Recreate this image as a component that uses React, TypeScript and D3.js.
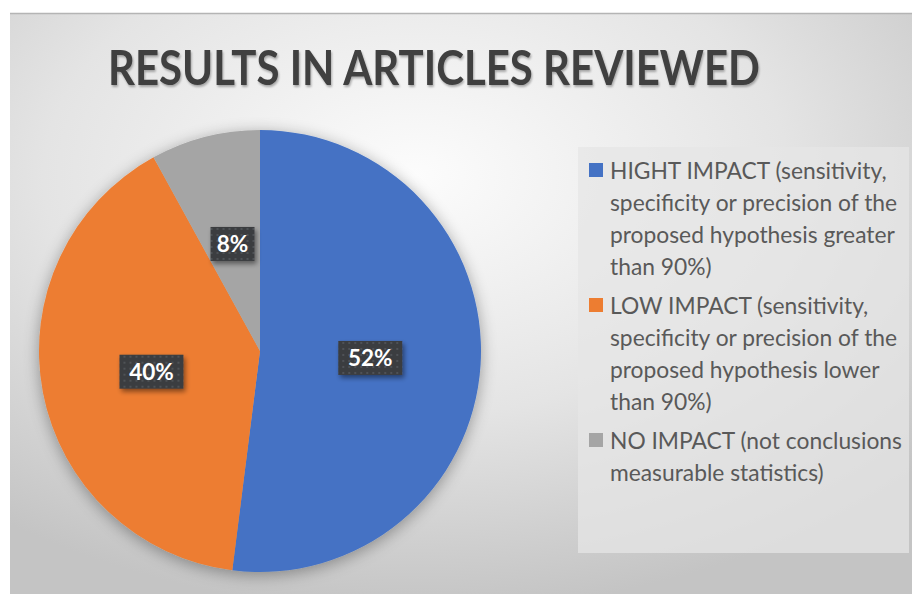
import React from "react";
import { pie, arc, scaleOrdinal } from "d3";

// values
const categories = ["HIGHT IMPACT", "LOW IMPACT", "NO IMPACT"];
const values = [52, 40, 8];
const colors = ["#4472c4", "#ed7d31", "#a5a5a5"];
// legend text, wrapped the way the original wraps it
const legendLines = [
  ["HIGHT IMPACT (sensitivity,", "specificity or precision of the", "proposed hypothesis greater", "than 90%)"],
  ["LOW IMPACT (sensitivity,", "specificity or precision of the", "proposed hypothesis lower", "than 90%)"],
  ["NO IMPACT (not conclusions", "measurable statistics)"],
];
const title = "RESULTS IN ARTICLES REVIEWED";

const W = 912;
const H = 594;
const cx = 260;
const cy = 351;
const R = 221;

const App = () => {
  const color = scaleOrdinal<string, string>().domain(categories).range(colors);
  const slices = pie<number>().sort(null).value(d => d)(values);
  const sliceArc = arc<any>().innerRadius(0).outerRadius(R);

  // legend layout
  const lineH = 32;
  const gap = 7;
  let y = 179;
  const legendRows = legendLines.map((lines, i) => {
    const row = { i, y, lines };
    y += lines.length * lineH + gap;
    return row;
  });

  return (
    <svg width={W} height={H} style={{ position: "absolute", left: 0, top: 0 }}>
      <defs>
        <radialGradient id="bg" cx="45%" cy="28%" r="75%">
          <stop offset="0%" stopColor="#fcfcfc" />
          <stop offset="55%" stopColor="#e4e4e4" />
          <stop offset="100%" stopColor="#c4c4c4" />
        </radialGradient>
        <filter id="pieShadow" x="-20%" y="-20%" width="140%" height="140%">
          <feGaussianBlur in="SourceAlpha" stdDeviation="8" />
          <feOffset dx="0" dy="3" result="b" />
          <feComponentTransfer>
            <feFuncA type="linear" slope="0.35" />
          </feComponentTransfer>
          <feMerge>
            <feMergeNode />
            <feMergeNode in="SourceGraphic" />
          </feMerge>
        </filter>
        <filter id="boxShadow" x="-30%" y="-30%" width="160%" height="170%">
          <feGaussianBlur in="SourceAlpha" stdDeviation="2.5" />
          <feOffset dx="2" dy="3" />
          <feComponentTransfer>
            <feFuncA type="linear" slope="0.45" />
          </feComponentTransfer>
          <feMerge>
            <feMergeNode />
            <feMergeNode in="SourceGraphic" />
          </feMerge>
        </filter>
        <filter id="titleShadow" x="-5%" y="-20%" width="110%" height="150%">
          <feGaussianBlur in="SourceAlpha" stdDeviation="1.2" />
          <feOffset dx="1" dy="2" />
          <feComponentTransfer>
            <feFuncA type="linear" slope="0.3" />
          </feComponentTransfer>
          <feMerge>
            <feMergeNode />
            <feMergeNode in="SourceGraphic" />
          </feMerge>
        </filter>
        <pattern id="dots" width="6" height="6" patternUnits="userSpaceOnUse">
          <rect width="6" height="6" fill="#3b3d40" />
          <circle cx="3" cy="3" r="1" fill="#56595e" />
        </pattern>
      </defs>

      <rect x={0} y={0} width={W} height={H} fill="#ffffff" />
      <rect x={10} y={13} width={W - 10} height={H - 13} fill="url(#bg)" />
      <line x1={10} x2={W} y1={13.5} y2={13.5} stroke="#b4b4b4" strokeWidth={1.5} />

      <text
        x={108}
        y={85}
        fontFamily="Lato, 'Open Sans', sans-serif"
        fontWeight="bold"
        fontSize={48}
        fill="#404040"
        textLength={652}
        lengthAdjust="spacingAndGlyphs"
        filter="url(#titleShadow)"
      >
        {title}
      </text>

      <g transform={`translate(${cx},${cy})`}>
        <g filter="url(#pieShadow)">
          {slices.map((s, i) => (
            <path key={i} d={sliceArc(s) as string} fill={color(categories[i])} />
          ))}
        </g>
        {slices.map((s, i) => {
          const [lx, ly] = sliceArc.centroid(s);
          const label = `${values[i]}%`;
          const bw = label.length * 20 + 4;
          const bh = 34;
          return (
            <g key={i} transform={`translate(${lx},${ly})`}>
              <rect
                x={-bw / 2}
                y={-bh / 2}
                width={bw}
                height={bh}
                fill="url(#dots)"
                filter="url(#boxShadow)"
              />
              <text
                textAnchor="middle"
                dy="0.36em"
                fontFamily="Lato, 'Open Sans', sans-serif"
                fontWeight="bold"
                fontSize={22.5}
                fill="#ffffff"
              >
                {label}
              </text>
            </g>
          );
        })}
      </g>

      <rect x={578} y={147} width={331} height={406} fill="#e6e6e6" opacity={0.75} />
      {legendRows.map(row => (
        <g key={row.i}>
          <rect x={589} y={row.y - 16} width={14} height={14} fill={color(categories[row.i])} />
          {row.lines.map((ln, j) => (
            <text
              key={j}
              x={610}
              y={row.y + j * lineH}
              fontFamily="Lato, 'Open Sans', sans-serif"
              fontSize={22.8}
              fill="#595959"
            >
              {ln}
            </text>
          ))}
        </g>
      ))}
    </svg>
  );
};

export default App;
